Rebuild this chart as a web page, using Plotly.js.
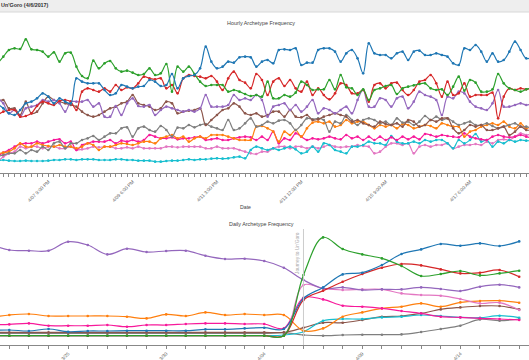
<!DOCTYPE html>
<html>
<head>
<meta charset="utf-8">
<script src="https://cdn.plot.ly/plotly-3.0.1.min.js"></script>
<style>
html,body{margin:0;padding:0;background:#fff;overflow:hidden;}
#chart{width:529px;height:360px;}
</style>
</head>
<body>
<div id="chart"></div>
<script>
// ---------- Hourly data (3-hour buckets starting 2017-04-06 18:00) ----------
const hourlyStart = '2017-04-06T18:00:00Z';
const hourlyStepHours = 3;

const hourlyBlue = [207,194,179,174,189,209,214,224,239,229,209,224,214,209,284,274,269,269,269,249,234,239,264,259,254,259,261,279,274,261,264,297,254,284,291,294,314,379,334,314,319,334,331,347,349,347,319,334,339,329,369,371,369,374,324,331,331,369,374,374,364,334,359,369,344,299,389,359,354,354,344,359,364,339,364,367,354,354,359,354,349,329,324,374,369,384,364,334,359,334,339,364,394,369,344,347];
const hourlyGreen = [329,349,369,374,372,401,371,369,364,349,362,334,359,361,319,291,284,337,314,329,336,314,304,307,301,294,297,314,294,299,327,244,319,304,319,297,274,261,264,264,264,244,249,244,237,231,234,229,274,224,224,234,229,241,274,264,249,251,251,279,251,294,257,254,234,251,219,249,254,261,264,237,254,259,263,267,269,254,249,251,234,259,289,247,279,271,244,244,251,297,269,254,249,244,251,254];
const hourlyRed = [174,184,189,189,169,171,179,201,214,209,204,216,219,214,189,244,254,249,244,254,244,264,249,257,254,269,289,284,281,284,254,264,239,284,294,291,289,284,291,274,249,284,304,279,271,254,297,279,234,274,284,261,279,254,244,274,234,254,234,221,239,269,264,239,239,249,214,264,269,254,269,271,249,234,249,274,279,294,269,229,274,234,239,269,229,234,234,234,241,164,229,254,249,254,251,254];
const hourlyPurple = [224,209,179,189,169,194,199,204,219,214,219,209,184,214,214,214,219,199,209,169,169,201,174,209,224,201,199,204,174,189,199,194,189,184,189,184,194,234,199,199,199,204,234,219,224,219,234,219,169,199,204,209,189,204,184,199,219,179,194,189,179,189,199,179,219,249,199,199,224,219,199,224,229,194,214,244,234,229,219,174,229,224,244,239,214,199,194,189,209,249,199,199,204,209,204,207];
const hourlyBrown = [214,219,194,194,174,214,179,184,209,229,219,214,209,204,199,184,174,169,174,184,194,199,209,214,234,209,204,199,189,194,214,209,179,184,187,189,194,144,159,174,189,194,209,199,179,174,179,169,174,184,184,169,189,169,167,174,159,161,169,174,179,174,169,154,159,149,144,139,154,147,144,149,139,159,154,139,144,159,154,164,164,134,119,129,144,139,144,129,129,134,139,114,124,139,129,129];
const hourlyGrey = [49,54,59,59,69,59,69,64,79,69,89,94,74,89,89,99,104,111,99,109,119,119,134,137,109,134,139,129,124,141,129,109,136,134,144,137,144,147,139,134,129,159,129,134,149,164,139,144,154,149,157,159,149,129,144,164,161,164,159,124,154,149,174,159,144,159,164,159,149,154,144,164,151,154,144,154,171,159,169,159,164,154,144,149,154,144,144,149,141,134,139,144,149,139,139,134];
const hourlyOrange = [57,61,64,74,89,79,79,89,84,81,79,84,79,79,74,79,89,84,69,79,79,84,89,87,84,89,94,94,89,104,109,114,104,109,94,104,109,104,114,114,114,109,104,99,99,99,139,141,134,124,94,124,114,129,109,134,151,154,149,154,139,144,159,149,154,154,144,134,144,139,144,134,147,144,134,139,144,141,134,149,144,139,139,109,124,129,139,144,149,144,154,139,134,149,134,141];
const hourlyMagenta = [51,61,69,79,87,89,89,94,89,94,99,101,89,94,69,84,89,94,94,94,99,89,97,94,99,94,99,114,109,104,104,107,101,104,104,107,109,99,101,104,99,99,104,107,109,107,99,109,99,124,89,104,99,119,109,99,104,101,104,109,104,101,114,104,109,99,109,99,109,99,107,99,109,101,109,101,117,114,109,114,111,109,107,119,109,104,101,99,109,114,109,107,109,114,109,104];
const hourlyPink = [34,49,59,64,79,74,79,79,74,79,79,74,74,79,69,71,74,79,77,79,79,74,74,77,74,79,74,74,74,74,79,79,77,79,79,79,79,74,74,79,74,74,74,69,64,59,57,64,64,74,79,79,74,79,79,74,79,74,79,84,79,77,79,79,84,81,79,59,64,79,89,89,84,89,59,79,84,79,84,84,89,74,79,84,84,87,84,94,89,99,101,99,109,119,114,117];
const hourlyCyan = [37,39,37,36,36,37,36,36,36,37,39,39,41,41,39,41,41,41,39,39,39,41,41,39,39,37,37,37,34,34,36,37,37,39,41,39,41,41,43,44,43,44,47,49,44,69,79,74,69,74,69,74,79,71,59,64,79,64,89,84,69,64,59,79,79,84,94,89,89,84,111,94,89,89,94,89,99,94,99,99,89,74,99,89,99,117,94,99,79,94,89,99,94,99,97,97];

// ---------- Daily data (share, %) ----------
const dailyDates = ['2017-03-21','2017-03-22','2017-03-23','2017-03-24','2017-03-25','2017-03-26','2017-03-27','2017-03-28','2017-03-29','2017-03-30','2017-03-31','2017-04-01','2017-04-02','2017-04-03','2017-04-04','2017-04-05','2017-04-06','2017-04-07','2017-04-08','2017-04-09','2017-04-10','2017-04-11','2017-04-12','2017-04-13','2017-04-14','2017-04-15','2017-04-16','2017-04-17'];
const dailyPurple = [9.17,8.57,8.5,8.5,9.4,9.07,8.13,8.7,8.37,8.47,8.5,8.0,7.67,7.7,7.47,6.8,5.57,4.73,4.83,4.57,4.63,4.63,4.83,4.67,4.47,4.9,5.1,4.83];
const dailyGreen = [0,0,0,0,0,0,0,0,0,0,0,0,0,0,0,0,6.07,9.83,8.67,8.13,7.73,6.97,5.97,6.17,6.47,6.03,6.23,6.5];
const dailyBlue = [0.5,0.57,0.47,0.67,0.4,0.47,0.47,0.5,0.5,0.5,0.5,0.63,0.63,0.73,0.8,0.67,3.73,4.83,6.13,6.3,7.07,8.17,8.63,9.17,9.0,9.23,8.97,9.43];
const dailyRed = [0,0,0,0,0,0,0,0,0,0,0,0,0,0,0,0,3.57,4.5,5.4,6.17,6.8,7.17,7.03,6.63,6.23,6.3,6.57,5.9];
const dailyPink = [0,0,0,0,0,0,0,0,0,0,0,0,0,0,0,0,5.07,4.73,4.57,4.63,4.63,4.23,4.07,4.0,3.67,3.23,3.3,2.57];
const dailyMagenta = [1.07,1.13,1.23,1.0,1.0,1.0,1.07,0.9,1.07,1.07,1.17,1.23,1.23,1.17,1.17,0.73,3.8,3.63,3.0,2.9,2.73,2.47,2.23,1.9,1.83,1.73,1.67,1.57];
const dailyOrange = [1.83,2.07,2.17,1.97,1.97,1.97,1.97,1.9,1.73,2.13,1.97,2.33,2.07,2.17,2.07,2.07,0.5,0.73,1.9,2.33,2.73,2.9,3.23,2.9,3.33,3.47,3.5,3.3];
const dailyBrown = [0.33,0.33,0.33,0.33,0.33,0.33,0.33,0.33,0.33,0.33,0.33,0.33,0.33,0.33,0.33,0.33,0.8,1.3,1.3,1.57,1.9,1.97,2.23,2.63,2.83,2.97,2.97,2.63];
const dailyGrey = [0.23,0.23,0.23,0.23,0.23,0.23,0.23,0.23,0.23,0.23,0.23,0.23,0.23,0.23,0.23,0.3,0.07,0,0.07,0.1,0.1,0.13,0.37,0.67,1.0,1.63,1.5,1.67];
const dailyCyan = [0,0,0,0,0,0,0,0,0,0,0,0,0,0,0,0.07,0.4,1.5,1.67,1.67,1.83,1.9,2.07,1.97,1.83,1.8,2.0,1.8];

const releaseDate = '2017-04-06';

// ---------- colours ----------
const colors = {
  blue:'#1f77b4', green:'#2ca02c', red:'#d62728', purple:'#9467bd', brown:'#8c564b',
  grey:'#7f7f7f', orange:'#ff7f0e', magenta:'#f7199a', pink:'#e377c2', cyan:'#17becf'
};

function hourlyTimes(n){
  const t0 = Date.parse(hourlyStart);
  const out = [];
  for(let i=0;i<n;i++){
    out.push(new Date(t0 + i*hourlyStepHours*3600000).toISOString().slice(0,19).replace('T',' '));
  }
  return out;
}
const hx = hourlyTimes(hourlyBlue.length);

const hourlySeries = [
  ['Series pink', hourlyPink, colors.pink],
  ['Series cyan', hourlyCyan, colors.cyan],
  ['Series magenta', hourlyMagenta, colors.magenta],
  ['Series orange', hourlyOrange, colors.orange],
  ['Series grey', hourlyGrey, colors.grey],
  ['Series brown', hourlyBrown, colors.brown],
  ['Series purple', hourlyPurple, colors.purple],
  ['Series red', hourlyRed, colors.red],
  ['Series green', hourlyGreen, colors.green],
  ['Series blue', hourlyBlue, colors.blue]
];
const dailySeries = [
  ['Series grey', dailyGrey, colors.grey],
  ['Series brown', dailyBrown, colors.brown],
  ['Series cyan', dailyCyan, colors.cyan],
  ['Series orange', dailyOrange, colors.orange],
  ['Series magenta', dailyMagenta, colors.magenta],
  ['Series pink', dailyPink, colors.pink],
  ['Series purple', dailyPurple, colors.purple],
  ['Series red', dailyRed, colors.red],
  ['Series blue', dailyBlue, colors.blue],
  ['Series green', dailyGreen, colors.green]
];

const traces = [];
hourlySeries.forEach(([name, ys, c]) => traces.push({
  type:'scatter', mode:'lines+markers', name, x:hx, y:ys, xaxis:'x', yaxis:'y',
  line:{color:c, width:1.2, shape:'spline', smoothing:1}, marker:{color:c, size:2.6}
}));
dailySeries.forEach(([name, ys, c]) => traces.push({
  type:'scatter', mode:'lines+markers', name, x:dailyDates, y:ys, xaxis:'x2', yaxis:'y2',
  line:{color:c, width:1.2, shape:'spline', smoothing:1}, marker:{color:c, size:2.6}
}));

const H = 360, W = 529;
const py = p => (H - p) / H;   // pixel row -> paper y
const px = p => p / W;         // pixel column -> paper x

const axisCommon = {
  showline:true, linecolor:'#888', linewidth:1, ticks:'outside', ticklen:3, tickcolor:'#888',
  tickangle:-45, tickfont:{family:'Liberation Sans, Arial, sans-serif', size:4.8, color:'#666'},
  showgrid:false, zeroline:false, type:'date'
};

const layout = {
  width:W, height:H, margin:{l:0,r:0,t:0,b:0}, showlegend:false,
  paper_bgcolor:'#fff', plot_bgcolor:'#fff',
  font:{family:'Liberation Sans, Arial, sans-serif', color:'#333'},
  xaxis: Object.assign({}, axisCommon, {
    anchor:'y', domain:[0,1],
    range:['2017-04-06 19:14', '2017-04-18 13:29'],
    tick0:'2017-04-07 21:00', dtick:45*3600000,
    tickformat:'%-m/%d %-I:%M %p',
    minor:{dtick:3*3600000, tick0:'2017-04-07 21:00', ticks:'outside', ticklen:3, tickcolor:'#888', showgrid:false}
  }),
  yaxis:{anchor:'x', domain:[py(173), py(33)], range:[0,420], visible:false, fixedrange:true},
  xaxis2: Object.assign({}, axisCommon, {
    anchor:'y2', domain:[0,1],
    range:['2017-03-21 12:37', '2017-04-17 12:00'],
    tick0:'2017-03-25', dtick:5*86400000,
    tickformat:'%-m/%d',
    minor:{dtick:86400000, tick0:'2017-03-25', ticks:'outside', ticklen:3, tickcolor:'#888', showgrid:false}
  }),
  yaxis2:{anchor:'x2', domain:[py(345), py(230)], range:[-0.93,10.57], visible:false, fixedrange:true},
  shapes:[
    {type:'rect', xref:'paper', yref:'paper', x0:0, x1:1, y0:py(12), y1:1, fillcolor:'#eeeeee', line:{width:0}, layer:'below'},
    {type:'line', xref:'paper', yref:'paper', x0:0, x1:1, y0:py(12), y1:py(12), line:{color:'#d8d8d8', width:1}},
    {type:'line', xref:'x2', yref:'paper', x0:releaseDate, x1:releaseDate, y0:py(345), y1:py(229), line:{color:'#cccccc', width:1}}
  ],
  annotations:[
    {text:"<b>Un'Goro (4/6/2017)</b>", xref:'paper', yref:'paper', x:0, y:py(5.5), xanchor:'left', yanchor:'middle', xshift:-1, showarrow:false, font:{size:5.4, color:'#333'}},
    {text:'Hourly Archetype Frequency', xref:'paper', yref:'paper', x:px(261), y:py(23), xanchor:'center', yanchor:'middle', showarrow:false, font:{size:5.4, color:'#444'}},
    {text:'Date', xref:'paper', yref:'paper', x:px(245), y:py(207), xanchor:'center', yanchor:'middle', showarrow:false, font:{size:5.2, color:'#444'}},
    {text:'Daily Archetype Frequency', xref:'paper', yref:'paper', x:px(261.5), y:py(224), xanchor:'center', yanchor:'middle', showarrow:false, font:{size:5.4, color:'#444'}},
    {text:"Journey to Un'Goro", xref:'x2', yref:'paper', x:releaseDate, y:py(230), xanchor:'right', yanchor:'top', xshift:-1, textangle:-90, showarrow:false, font:{size:4.8, color:'#aaa'}}
  ]
};

Plotly.newPlot('chart', traces, layout, {staticPlot:true, displayModeBar:false});
</script>
</body>
</html>
